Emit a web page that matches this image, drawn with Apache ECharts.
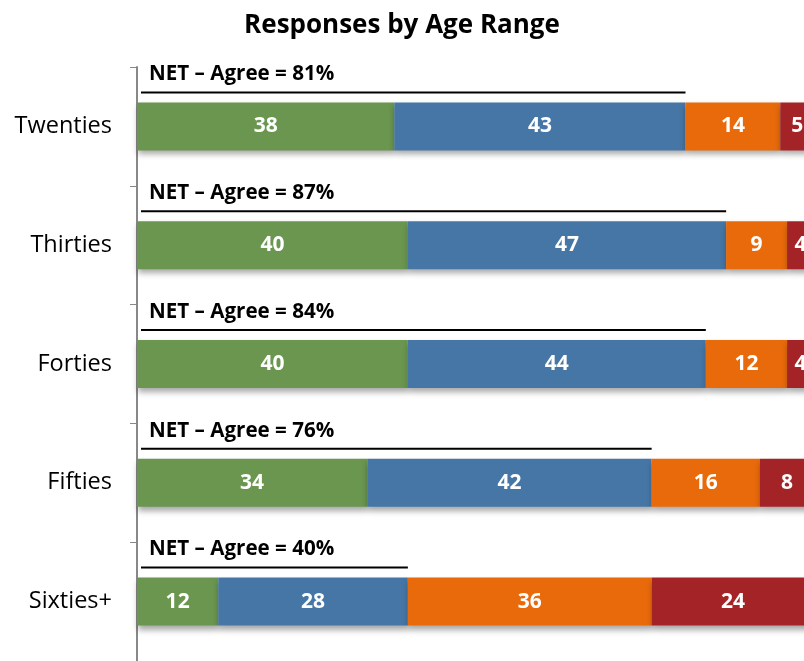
<!DOCTYPE html>
<html>
<head>
<meta charset="utf-8">
<script src="https://cdn.jsdelivr.net/npm/echarts@6/dist/echarts.min.js"></script>
<style>html,body{margin:0;padding:0;background:#fff;}#c{width:804px;height:661px;}</style>
</head>
<body>
<div id="c"></div>
<script>
var categories = ['Twenties', 'Thirties', 'Forties', 'Fifties', 'Sixties+'];
var seriesGreen = [38, 40, 40, 34, 12];
var seriesBlue = [43, 47, 44, 42, 28];
var seriesOrange = [14, 9, 12, 16, 36];
var seriesRed = [5, 4, 4, 8, 24];
var netAgree = [81, 87, 84, 76, 40];
var titleText = 'Responses by Age Range';
var colors = ['#6A9650', '#4676A5', '#E86A0B', '#A32326'];

var font = 'Open Sans';
var chart = echarts.init(document.getElementById('c'), null, {renderer: 'canvas'});

function barSeries(name, data, color) {
  return {
    name: name,
    type: 'bar',
    stack: 'total',
    data: data,
    barWidth: 48,
    itemStyle: {color: color, shadowColor: 'rgba(0,0,0,0.35)', shadowBlur: 6, shadowOffsetY: 4, shadowOffsetX: 1},
    label: {show: true, position: 'inside', color: '#fff', fontFamily: font, fontWeight: 'bold', fontSize: 21},
    clip: false,
    z: 2
  };
}

var netData = netAgree.map(function (v, i) { return [v, i]; });

chart.setOption({
  animation: false,
  title: {
    text: titleText, left: 397, top: 8, textAlign: 'center',
    textStyle: {fontFamily: font, fontWeight: 'bold', fontSize: 26, color: '#000'}
  },
  grid: {left: 137, top: 67, right: 0, height: 599},
  xAxis: {type: 'value', min: 0, max: 98.5, show: false},
  yAxis: {
    type: 'category', data: categories, inverse: true,
    axisLine: {show: true, lineStyle: {color: '#888', width: 2}},
    axisTick: {show: true, length: 7, inside: false, lineStyle: {color: '#888', width: 1}},
    axisLabel: {fontFamily: font, fontSize: 23.5, color: '#000', margin: 25},
    splitLine: {show: false}
  },
  series: [
    barSeries('green', seriesGreen, colors[0]),
    barSeries('blue', seriesBlue, colors[1]),
    barSeries('orange', seriesOrange, colors[2]),
    barSeries('red', seriesRed, colors[3]),
    {
      type: 'custom',
      data: netData,
      z: 5,
      clip: false,
      renderItem: function (params, api) {
        var cat = api.value(1);
        var start = api.coord([0, cat]);
        var end = api.coord([api.value(0), cat]);
        var y = start[1] - 34;
        return {
          type: 'group',
          children: [
            {type: 'line', shape: {x1: start[0] + 4, y1: y, x2: end[0], y2: y},
             style: {stroke: '#000', lineWidth: 2}},
            {type: 'text', x: start[0] + 12, y: y - 18,
             style: {text: 'NET \u2013 Agree = ' + api.value(0) + '%', fill: '#000',
                     font: 'bold 20.6px "Open Sans"', verticalAlign: 'middle', align: 'left'}}
          ]
        };
      }
    }
  ]
});
</script>
</body>
</html>
